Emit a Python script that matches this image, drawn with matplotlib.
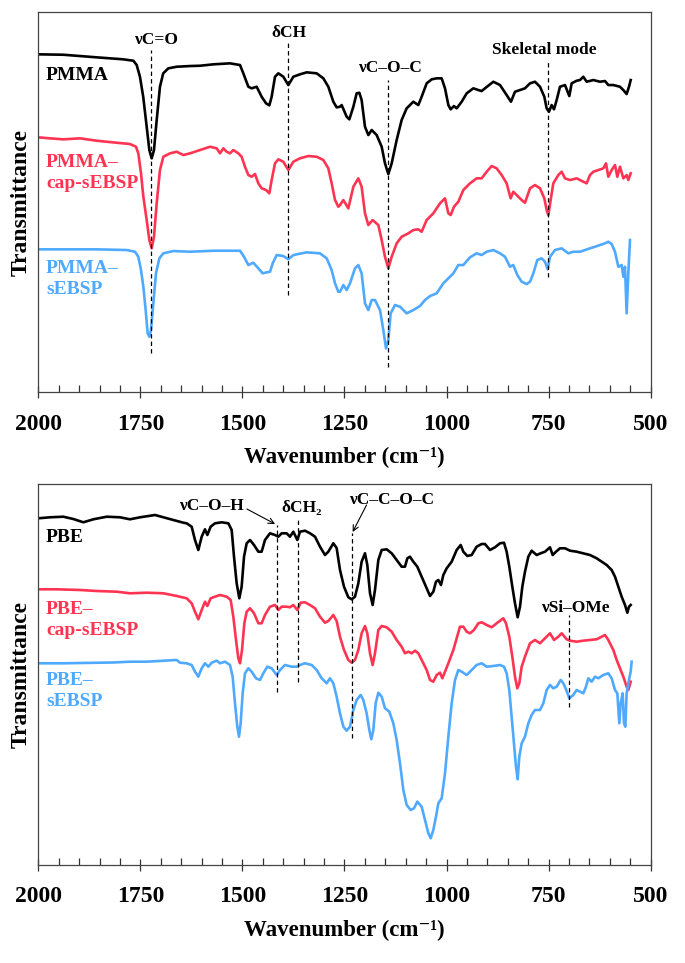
import numpy as np
import matplotlib
matplotlib.use("Agg")
import matplotlib.pyplot as plt
from matplotlib.ticker import MultipleLocator

plt.rcParams['font.family'] = ['Liberation Serif', 'DejaVu Serif']
plt.rcParams['font.weight'] = 'bold'

######################## DATA ########################
# top panel: PMMA series (wavenumber, transmittance in arbitrary units)
pmma_wn = [2000, 1938.7, 1857, 1791.7, 1767, 1759, 1751, 1743, 1734.5, 1728, 1722.3, 1716.6, 1710, 1702,
           1694, 1681.5, 1661, 1628.4, 1603.9, 1571.3, 1530.4, 1505.9, 1497.8, 1485.5, 1477.4, 1465.1,
           1452.9, 1442.2, 1434.1, 1428.4, 1420.2, 1412, 1399.8, 1387.5, 1375.3, 1359, 1342.6, 1318.1,
           1301.8, 1289.6, 1277.3, 1269.2, 1261, 1256.9, 1244.7, 1238.1, 1228.3, 1220.2, 1213.6, 1208,
           1199.8, 1191.6, 1183.4, 1171.2, 1158.9, 1150.8, 1142.6, 1134.4, 1122.2, 1110, 1097.7, 1081.4,
           1069.1, 1061, 1048.7, 1036.5, 1024.2, 1012, 1003.8, 995.6, 989.9, 981.8, 975.2, 963, 950.7,
           934.4, 922.1, 914, 905.9, 885.4, 869.1, 852.8, 842.2, 832.4, 820.1, 807.9, 795.6, 783.4, 771.1,
           760.5, 754.8, 749.1, 742.6, 736.8, 730.3, 722.1, 709.9, 699.3, 693.6, 681.3, 673.2, 665, 656.8,
           640.5, 624.2, 611.9, 603.8, 591.5, 575.2, 567, 558.9, 553.1, 549]
pmma_t = [337.7, 337.3, 334.7, 332.7, 331.3, 327, 315.3, 295.3, 265.3, 242, 233.7, 242, 272, 305.3,
          318.7, 323.7, 325.3, 326, 326.3, 327.7, 328.7, 327, 318.7, 305.3, 303.7, 305.3,
          295.3, 288.7, 286.7, 295.3, 315.3, 318.7, 315.3, 307, 315.3, 317.7, 319.7, 318.7,
          313.7, 305.3, 290.3, 284.7, 285.3, 287, 275.3, 272.7, 285.3, 298.7, 299.3, 292,
          265.3, 257, 262, 257, 245.3, 228.7, 218, 228.7, 252, 272, 283.7, 290.3,
          287, 295.3, 308.7, 312.7, 313.7, 313.7, 303.7, 287, 282.7, 286, 283.7, 290.3, 298.7,
          303.7, 302, 301, 303.7, 310.3, 307, 297, 290.3, 300.3, 302, 303.7, 308.7, 310.3, 305.3,
          295.3, 283.7, 280.3, 287, 282.7, 292, 305.3, 307, 296, 308.7, 311.3, 312, 315.3, 310.3,
          312, 310.3, 311, 307, 307, 305.3, 302, 298, 305.3, 312]

pmma_cap_wn = [2000, 1971.3, 1938.7, 1897.8, 1857, 1808, 1775.4, 1760.7, 1755, 1748.4, 1742.7, 1734.5, 1728,
               1722.3, 1716.6, 1710, 1702, 1693.7, 1677.4, 1661, 1644.7, 1628.4, 1603.9, 1579.4, 1563.1,
               1554.9, 1546.8, 1538.6, 1530.4, 1522.3, 1510, 1501.9, 1493.7, 1485.5, 1477.4, 1469.2, 1461,
               1452.9, 1442.2, 1434.1, 1428.4, 1420.2, 1412, 1399.8, 1387.5, 1375.3, 1359, 1338.6, 1318.1,
               1301.8, 1289.6, 1281.4, 1273.2, 1265.1, 1261, 1252.8, 1240.6, 1228.3, 1216.1, 1208, 1199.8,
               1191.6, 1181, 1167.1, 1158.9, 1150.8, 1142.6, 1134.4, 1122.2, 1110, 1093.6, 1081.4, 1069.1,
               1061, 1048.7, 1032.4, 1016.1, 1003.8, 995.6, 989.9, 981.8, 971.2, 958.9, 942.6, 926.3, 914,
               901.7, 889.5, 877.3, 865, 852.8, 843, 836.5, 828.3, 816, 807.9, 795.6, 783.4, 771.1, 760.5,
               754.8, 750.7, 745, 738.5, 726.2, 718, 709.9, 697.6, 681.3, 665, 656.8, 648.7, 640.5, 628.2,
               616, 609.5, 603.8, 595.6, 587.4, 581.7, 575.2, 567, 558.9, 554.8, 549]
pmma_cap_t = [254.7, 253.7, 252.7, 253.7, 251.3, 249.3, 248, 245.3, 238.7, 218.7, 195.3, 172, 152,
              143.7, 155.3, 188.7, 222, 235.3, 238.7, 240.3, 237, 238.7, 242, 245.3, 243.7,
              238.7, 243.7, 240.3, 238.7, 242, 238.7, 235.3, 225.3, 217, 215.3, 218, 208.7,
              203.7, 202, 198.7, 212, 228.7, 232.7, 230.3, 222, 230.3, 233.7, 236, 235.3,
              232, 223.7, 208.7, 192, 185.3, 187, 192, 183.7, 205.3, 213.7, 205.3, 178.7,
              167, 172, 167, 152, 135.3, 123.7, 135.3, 148.7, 155.3, 158.7, 162, 162.7,
              160.3, 172, 178.7, 188.7, 193.7, 178.7, 177, 185.3, 190.3, 202, 208.7, 213.7, 213.7,
              220.3, 226, 223.7, 217, 208.7, 193.7, 200.3, 197, 192, 189.3, 203.7, 207, 203.7, 193.7,
              182, 177, 192, 208.7, 217, 220.3, 213.7, 212, 213.7, 210.3, 208.7, 217, 220.3, 222,
              223.7, 228.7, 215.3, 222, 227, 215.3, 225.3, 213.7, 217, 212, 218.7]

pmma_s_wn = [2000, 1938.7, 1857, 1783.5, 1763.1, 1755, 1748.4, 1742.7, 1737, 1732.1, 1728, 1723.9, 1718.2,
             1711.7, 1703.5, 1693.7, 1669.2, 1628.4, 1571.3, 1505.9, 1496.1, 1485.5, 1473.3, 1461, 1450.4,
             1440.6, 1432.4, 1425.9, 1416.1, 1399.8, 1387.5, 1375.3, 1342.6, 1310, 1293.6, 1281.4, 1273.2,
             1265.1, 1261, 1252.8, 1244.7, 1236.5, 1224.3, 1216.1, 1208, 1199.8, 1191.6, 1183.4, 1175.3,
             1163, 1154.9, 1148.3, 1142.6, 1136.9, 1126.3, 1114, 1097.7, 1081.4, 1065.1, 1052.8, 1040.5,
             1024.2, 1007.9, 995.6, 983.4, 971.2, 958.9, 942.6, 926.3, 914, 901.7, 885.4, 869.1, 856.9,
             844.6, 836.5, 826.6, 816, 803.8, 795.6, 787.5, 777.7, 767.1, 758.9, 752.4, 746.6, 734.4, 718,
             701.7, 689.5, 673.2, 660.9, 648.7, 636.4, 624.2, 611.9, 603.8, 595.6, 587.4, 579.3, 571.1,
             567, 562.9, 558.9, 554.8, 550.7]
pmma_s_t = [142.7, 142.7, 142.7, 142, 140.3, 135.3, 122, 105.3, 82, 58.7, 55.3, 62, 88.7,
            118.7, 133.7, 138.7, 141, 140.3, 141.3, 141.3, 135.3, 127, 129.3, 123.7, 118.7,
            119.7, 120.3, 128.7, 137, 136, 132.7, 137, 139.7, 138.7, 133.7, 122, 108.7,
            100.3, 100.3, 107, 102, 108.7, 123.7, 127, 118.7, 88.7, 82, 92, 92,
            82, 62, 43.7, 52, 78.7, 87, 85.3, 78.7, 82, 86, 92, 96,
            98.7, 108.7, 113.7, 118.7, 127, 127, 134.7, 138.7, 137, 140.3, 142, 138.7, 135.3,
            125.3, 127, 117, 110.3, 108, 110.3, 118.7, 132, 133.7, 130.3, 122.7, 135.3, 142, 143.7,
            138.7, 140.3, 140.3, 142, 143.7, 145.3, 147, 148.7, 150.3, 148, 140.3, 125.3, 127,
            115.3, 125.3, 78.7, 118.7, 152]

# bottom panel: PBE series
pbe_wn = [2000, 1971.3, 1938.7, 1914.2, 1889.7, 1865.2, 1832.5, 1799.9, 1775.4, 1750.9, 1714.1, 1693.7,
          1669.2, 1644.7, 1636.6, 1624.3, 1616.2, 1608, 1599.8, 1591.7, 1585.9, 1577.8, 1567.2, 1550.8,
          1534.5, 1526.3, 1520.6, 1514.1, 1507.6, 1501.9, 1496.1, 1489.6, 1481.4, 1471.6, 1461, 1452.9,
          1444.7, 1432.5, 1420.2, 1412, 1403.9, 1391.6, 1383.5, 1375.3, 1365.5, 1359, 1346.7, 1334.5,
          1322.2, 1310, 1297.7, 1289.6, 1277.3, 1269.2, 1261, 1251.2, 1240.6, 1232.4, 1224.3, 1216.1,
          1208, 1199.8, 1194.1, 1187.5, 1181, 1175.3, 1167.1, 1158.9, 1146.7, 1134.4, 1122.2, 1110,
          1101.8, 1096.1, 1089.6, 1081.4, 1071.6, 1061, 1048.7, 1040.5, 1032.4, 1025.9, 1020.1, 1013.6,
          1007.9, 999.7, 987.5, 975.2, 965.4, 958.9, 949.1, 938.5, 926.3, 914, 905.9, 893.6, 881.4,
          869.1, 859.3, 852.8, 846.3, 838.9, 832.4, 825.8, 820.1, 814.4, 807.9, 799.7, 791.6, 779.3,
          769.5, 758.9, 746.6, 740.1, 731.9, 722.1, 709.9, 697.6, 681.3, 665, 648.7, 632.3, 620.1,
          607.8, 595.6, 587.4, 579.3, 571.1, 562.9, 557.2, 553.1, 549]
pbe_t = [346.7, 347.7, 348.3, 346, 342.7, 345.7, 348.3, 347.7, 345.7, 347.7, 350, 347.7,
         345, 342.3, 341.7, 338.3, 325, 315, 328.3, 335.7, 330, 338.3, 341.7, 342.7,
         341.7, 335, 308.3, 281.7, 266.7, 278.3, 308.3, 321.7, 325, 320, 313.3, 313.3,
         325, 331.7, 330, 328.3, 331.7, 331.7, 328.3, 333.3, 325, 333.3, 334.3, 331.7,
         328.3, 318.3, 310, 313.3, 321.7, 317, 295, 278.3, 267.7, 265.7, 268.3, 281.7,
         303.3, 311.7, 300, 271.7, 260, 275, 305, 315, 315.7, 311.7, 305, 298.3,
         298.3, 306.7, 308.3, 303.3, 298.3, 288.3, 276.7, 269, 273.3, 283.3, 285, 280,
         290, 296.7, 303.3, 315, 320, 313.3, 309, 310, 318.3, 321, 321, 315, 317.7,
         321.7, 322.3, 313.3, 298.3, 278.3, 261.7, 247.7, 258.3, 278.3, 293.3, 308.3, 314.3, 310,
         311.7, 313.3, 317.7, 310, 313.3, 316.7, 316.7, 314.3, 313.3, 311.7, 310, 306.7, 303.3,
         300, 295, 288.3, 278.3, 268.3, 260, 252.3, 258.3, 260]

pbe_cap_wn = [2000, 1955, 1897.8, 1857, 1808, 1775.4, 1734.5, 1693.7, 1661, 1636.6, 1624.3, 1616.2, 1608,
              1599.8, 1591.7, 1585.9, 1577.8, 1567.2, 1554.9, 1538.6, 1528.8, 1522.3, 1515.7, 1510,
              1505.9, 1501, 1495.3, 1489.6, 1481.4, 1471.6, 1461, 1452.9, 1444.7, 1432.5, 1420.2, 1412,
              1403.9, 1391.6, 1383.5, 1375.3, 1365.5, 1357.3, 1346.7, 1334.5, 1322.2, 1310, 1297.7,
              1289.6, 1277.3, 1269.2, 1261, 1251.2, 1240.6, 1232.4, 1224.3, 1216.1, 1208, 1199.8, 1194.1,
              1187.5, 1181, 1175.3, 1167.1, 1158.9, 1146.7, 1134.4, 1122.2, 1110, 1101.8, 1093.6, 1085.5,
              1077.3, 1069.1, 1056.9, 1048.7, 1040.5, 1032.4, 1024.2, 1016.1, 1010.3, 1003.8, 995.6,
              983.4, 975.2, 967.1, 958.9, 950.7, 942.6, 932.8, 922.2, 914, 901.7, 889.5, 877.3, 861,
              854.4, 846.3, 838.9, 832.4, 826.7, 821.8, 816, 807.9, 795.6, 783.4, 771.1, 758.9, 746.6,
              736.8, 726.2, 718, 705.8, 697.6, 681.3, 665, 648.7, 632.3, 611.9, 603.8, 591.5, 583.3,
              575.2, 567, 558.9, 554.8, 549]
pbe_cap_t = [275.7, 275.7, 275, 274, 273.3, 271.7, 272.3, 271.7, 269, 266.7, 261.7, 253.3, 245.7,
             255, 263.3, 259, 266.7, 268.3, 270, 268.3, 265, 248.3, 225, 206.7,
             201.7, 215, 241.7, 253.3, 256.7, 251.7, 241.7, 241.7, 250, 258.3, 260, 255,
             258.3, 258.3, 257.7, 260, 255, 262.3, 262.7, 260, 256.7, 248.3, 242.3,
             244, 250, 244, 228.3, 215, 205, 202.3, 205, 215, 231.7, 239, 231.7,
             211.7, 200, 211.7, 235, 239, 237.7, 233.3, 225, 218.3, 211.7, 213.3, 211.7,
             214.3, 211.7, 201.7, 195, 185, 183.3, 190, 192.3, 186.7, 193.3, 201.7,
             215, 226.7, 238.3, 238.3, 233.3, 231.7, 235, 241.7, 242.7, 240, 237.7, 241.7, 246.7,
             241.7, 228.3, 208.3, 188.3, 176.7, 181.7, 198.3, 208.3, 221.7, 225, 221.7, 226.7, 231.7,
             225, 228.3, 231.7, 225.7, 224.3, 223.3, 224.3, 225, 225.7, 230, 225, 215, 205,
             196.7, 188.3, 178.3, 175, 183.3]

pbe_s_wn = [2000, 1938.7, 1897.8, 1857, 1816.2, 1775.4, 1734.5, 1693.7, 1661, 1652.9, 1636.6, 1624.3,
            1616.2, 1608, 1599.8, 1591.7, 1583.5, 1575.3, 1563.1, 1554.9, 1542.7, 1530.4, 1523.9, 1518.2,
            1512.5, 1508.4, 1504.3, 1499.4, 1493.7, 1485.5, 1477.4, 1466.7, 1456.9, 1448.8, 1439, 1428.4,
            1416.1, 1407.9, 1395.7, 1379.4, 1367.1, 1359, 1346.7, 1330.4, 1318.1, 1305.9, 1293.6, 1285.5,
            1277.3, 1269.2, 1261, 1252.8, 1244.7, 1236.5, 1228.3, 1220.2, 1210.4, 1203.9, 1195.7, 1189.2,
            1184.3, 1179.4, 1173.6, 1167.1, 1158.9, 1150.8, 1140.2, 1130.4, 1122.2, 1114, 1105.9, 1097.7,
            1087.9, 1079.7, 1071.6, 1061, 1052.8, 1044.6, 1038.9, 1032.4, 1025.9, 1020.1, 1012, 1003.8,
            995.6, 987.5, 979.3, 971.2, 963, 950.7, 938.5, 926.3, 914, 901.8, 885.4, 869.1, 859.3, 852.8,
            846.3, 840.5, 834.8, 829.9, 825.8, 821.8, 816, 807.9, 799.7, 791.6, 783.4, 771.1, 763, 754.8,
            746.6, 738.5, 730.3, 720.5, 714, 707.4, 699.3, 689.5, 681.3, 673.2, 665, 658.5, 652.7, 644.6,
            636.4, 628.2, 616, 603.8, 595.6, 587.4, 581.7, 576.8, 573.5, 568.6, 565.4, 562.1, 558.9,
            554.8, 549, 546.6]
pbe_s_t = [201.7, 201.7, 202, 202.3, 202.5, 203.3, 203.3, 204.3, 205, 202.3, 201.7, 200,
           193.3, 188.3, 196.7, 201.7, 198.3, 202.3, 204.3, 201.7, 203.3, 200, 188.3, 161.7,
           138.3, 128.3, 141.7, 171.7, 191.7, 196.7, 193.3, 186.7, 185, 191.7, 198.3, 196.7,
           190, 195, 200, 198.3, 198.3, 200, 201.7, 200, 195, 186.7, 181.7, 186.7,
           181.7, 168.3, 151.7, 138.3, 134.3, 138.3, 155, 165, 170, 165, 151.7, 135,
           125.7, 135, 161.7, 172.3, 168.3, 156.7, 153.3, 141.7, 125, 101.7, 75, 60,
           55, 56.7, 63.3, 58.3, 45, 31.7, 26.7, 35, 48.3, 61.7, 66.7, 91.7,
           128.3, 161.7, 185, 195, 193.3, 190, 195, 200, 201.7, 198.3, 199, 200, 198.3, 191.7,
           175, 148.3, 121.7, 98.3, 85.7, 108.3, 121.7, 128.3, 141.7, 150, 155, 155, 161.7, 175,
           180, 176.7, 178.3, 185, 181.7, 175.7, 166.7, 170, 175, 173.3, 171.7, 178.3, 186.7, 183.3,
           188.3, 186.7, 190, 191.7, 186.7, 175, 171.7, 141.7, 161.7, 171.7, 141.7, 138.3, 171.7,
           181.7, 193.3, 203.3]

top_names = ['PMMA', 'PMMA–\ncap-sEBSP', 'PMMA–\nsEBSP']
bottom_names = ['PBE', 'PBE–\ncap-sEBSP', 'PBE–\nsEBSP']
xticks = [2000, 1750, 1500, 1250, 1000, 750, 500]

######################## PLOT ########################
colors = ['black', '#ff3452', '#4faaff']

fig = plt.figure(figsize=(6.85, 9.63), dpi=100)
ax1 = fig.add_axes([0.0559, 0.5929, 0.894, 0.3946])
ax2 = fig.add_axes([0.0559, 0.1018, 0.894, 0.3956])

ax1.plot(pmma_wn, pmma_t, color=colors[0], lw=1.9)
ax1.plot(pmma_cap_wn, pmma_cap_t, color=colors[1], lw=1.9)
ax1.plot(pmma_s_wn, pmma_s_t, color=colors[2], lw=1.9)

ax2.plot(pbe_wn, pbe_t, color=colors[0], lw=1.9)
ax2.plot(pbe_cap_wn, pbe_cap_t, color=colors[1], lw=1.9)
ax2.plot(pbe_s_wn, pbe_s_t, color=colors[2], lw=1.9)

for ax, top in [(ax1, 380), (ax2, 381)]:
    ax.set_xlim(2000, 500)
    ax.set_ylim(0, top)
    ax.set_xticks(xticks)
    ax.xaxis.set_minor_locator(MultipleLocator(50))
    ax.tick_params(axis='x', which='major', direction='inout', length=9, width=0.9,
                   labelsize=17, pad=11, colors='#333333', labelcolor='black')
    ax.tick_params(axis='x', which='minor', direction='in', length=5, width=0.9, colors='#333333')
    ax.set_yticks([])
    for s in ax.spines.values():
        s.set_color('#444444')
        s.set_linewidth(0.9)
    ax.set_xlabel('Wavenumber (cm⁻¹)', fontsize=16.5, fontweight='bold', labelpad=9)
    ax.set_ylabel('Transmittance', fontsize=17, fontweight='bold', labelpad=5)

dash = (0, (3.5, 2.5))
# top panel marker lines and labels
ax1.plot([1724, 1724], [39, 342], color='black', lw=0.9, ls=dash)
ax1.plot([1387.5, 1387.5], [97, 350], color='black', lw=0.9, ls=dash)
ax1.plot([1142.6, 1142.6], [25, 312], color='black', lw=0.9, ls=dash)
ax1.plot([750.7, 750.7], [115, 332], color='black', lw=0.9, ls=dash)
ax1.text(1712, 352, 'νC=O', ha='center', va='center', fontsize=12.5)
ax1.text(1387, 359, 'δCH', ha='center', va='center', fontsize=12.5)
ax1.text(1138, 324, 'νC–O–C', ha='center', va='center', fontsize=12.5)
ax1.text(761, 342, 'Skeletal mode', ha='center', va='center', fontsize=12.5)

ax1.text(1981, 317, top_names[0], color=colors[0], ha='left', va='center', fontsize=14)
ax1.text(1981, 219, top_names[1], color=colors[1], ha='left', va='center', fontsize=14, linespacing=1.25)
ax1.text(1981, 113, top_names[2], color=colors[2], ha='left', va='center', fontsize=14, linespacing=1.25)

# bottom panel marker lines and labels
ax2.plot([1414.5, 1414.5], [173, 340], color='black', lw=0.9, ls=dash)
ax2.plot([1364.7, 1364.7], [183, 348], color='black', lw=0.9, ls=dash)
ax2.plot([1232.4, 1232.4], [127, 332], color='black', lw=0.9, ls=dash)
ax2.plot([699.3, 699.3], [158, 250], color='black', lw=0.9, ls=dash)
ax2.text(1577, 359, 'νC–O–H', ha='center', va='center', fontsize=12.5)
ax2.text(1355, 357, 'δCH₂', ha='center', va='center', fontsize=12.5)
ax2.text(1134, 365, 'νC–C–O–C', ha='center', va='center', fontsize=12.5)
ax2.text(685, 257, 'νSi–OMe', ha='center', va='center', fontsize=12.5)
ax2.annotate('', xy=(1420, 341), xytext=(1489, 356),
             arrowprops=dict(arrowstyle='->', lw=0.8, color='black', shrinkA=0, shrinkB=0))
ax2.annotate('', xy=(1230, 333), xytext=(1196, 360),
             arrowprops=dict(arrowstyle='->', lw=0.8, color='black', shrinkA=0, shrinkB=0))

ax2.text(1981, 327, bottom_names[0], color=colors[0], ha='left', va='center', fontsize=14)
ax2.text(1981, 245, bottom_names[1], color=colors[1], ha='left', va='center', fontsize=14, linespacing=1.25)
ax2.text(1981, 174, bottom_names[2], color=colors[2], ha='left', va='center', fontsize=14, linespacing=1.25)

fig.savefig('out.png', dpi=100)
